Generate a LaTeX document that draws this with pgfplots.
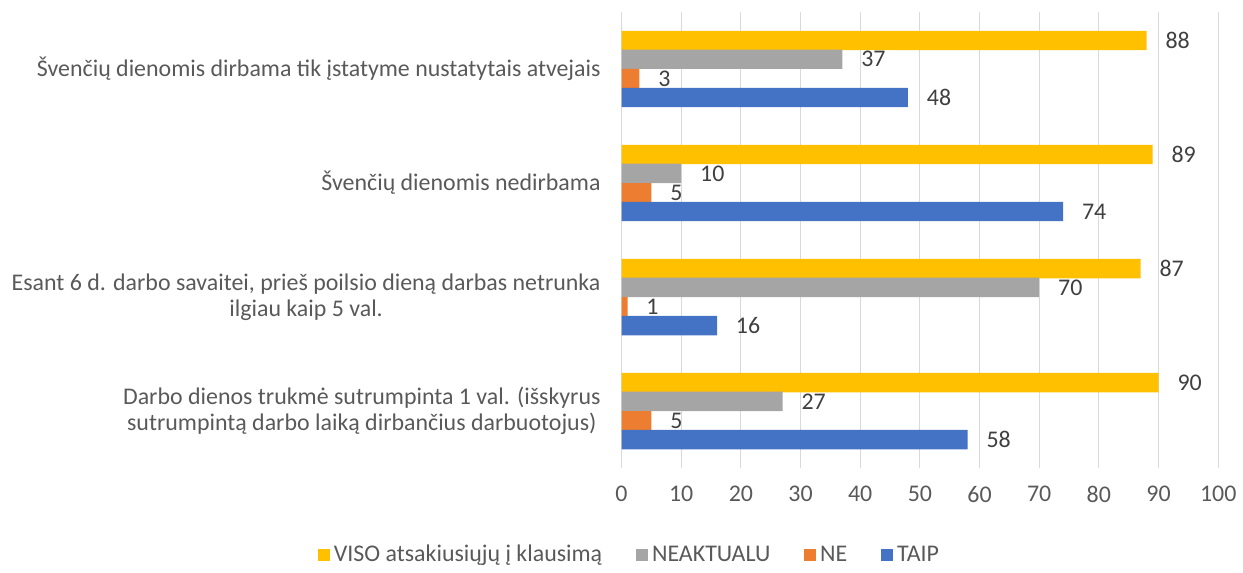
\documentclass[border=0pt]{standalone}
\usepackage{fontspec}
\setmainfont{Carlito}
\usepackage{pgfplots}
\pgfplotsset{compat=1.18}

\definecolor{cviso}{HTML}{FFC000}
\definecolor{cneakt}{HTML}{A5A5A5}
\definecolor{cne}{HTML}{ED7D31}
\definecolor{ctaip}{HTML}{4472C4}
\definecolor{gridgray}{HTML}{D9D9D9}
\definecolor{labgray}{HTML}{595959}
\definecolor{valgray}{HTML}{404040}

\begin{document}
\begin{tikzpicture}
	\begin{axis}[
			scale only axis,
			width=299.5pt,
			height=229pt,
			xbar,
			bar width=0.17,
			xmin=0, xmax=100,
			ymin=-0.5, ymax=3.5,
			xtick={0,10,...,100},
			ytick={0,1,2,3},
			yticklabels={
					{Darbo dienos trukmė sutrumpinta 1 val. (išskyrus\\sutrumpintą darbo laiką dirbančius darbuotojus)},
					{Esant 6 d. darbo savaitei, prieš poilsio dieną darbas netrunka\\ilgiau kaip 5 val.},
					{Švenčių dienomis nedirbama},
					{Švenčių dienomis dirbama tik įstatyme nustatytais atvejais}
				},
			yticklabel style={align=center, font=\fontsize{12}{13.2}\selectfont, text=labgray, xshift=-7pt},
			xticklabel style={font=\fontsize{12}{14}\selectfont, text=labgray, yshift=-5.5pt},
			/pgf/number format/assume math mode=true,
			xmajorgrids,
			grid style={draw=gridgray, line width=0.6pt},
			axis line style={draw=none},
			major tick length=0pt,
			point meta=x,
			nodes near coords,
			nodes near coords style={font=\fontsize{12}{14}\selectfont, text=valgray, anchor=west, xshift=6pt},
			clip=false,
			legend columns=4,
			legend style={
					at={(0.015,-0.19)}, anchor=center,
					draw=none, fill=none,
					font=\fontsize{12}{14}\selectfont, text=labgray,
					/tikz/every even column/.append style={column sep=15pt}
				},
			legend image code/.code={\fill[#1] (0pt,-3pt) rectangle (6pt,3pt);},
		]

		\addplot[fill=cviso, draw=none, bar shift=0pt] coordinates {
				(90,0.25) (87,1.25) (89,2.25) (88,3.25)
			};
		\addlegendentry{VISO atsakiusiųjų į klausimą}

		\addplot[fill=cneakt, draw=none, bar shift=0pt] coordinates {
				(27,0.085) (70,1.085) (10,2.085) (37,3.085)
			};
		\addlegendentry{NEAKTUALU}

		\addplot[fill=cne, draw=none, bar shift=0pt] coordinates {
				(5,-0.085) (1,0.915) (5,1.915) (3,2.915)
			};
		\addlegendentry{NE}

		\addplot[fill=ctaip, draw=none, bar shift=0pt] coordinates {
				(58,-0.25) (16,0.75) (74,1.75) (48,2.75)
			};
		\addlegendentry{TAIP}

	\end{axis}
	\path ([xshift=-312pt,yshift=-50pt]current axis.south west) rectangle ([xshift=10pt,yshift=6pt]current axis.north east);
\end{tikzpicture}
\end{document}
